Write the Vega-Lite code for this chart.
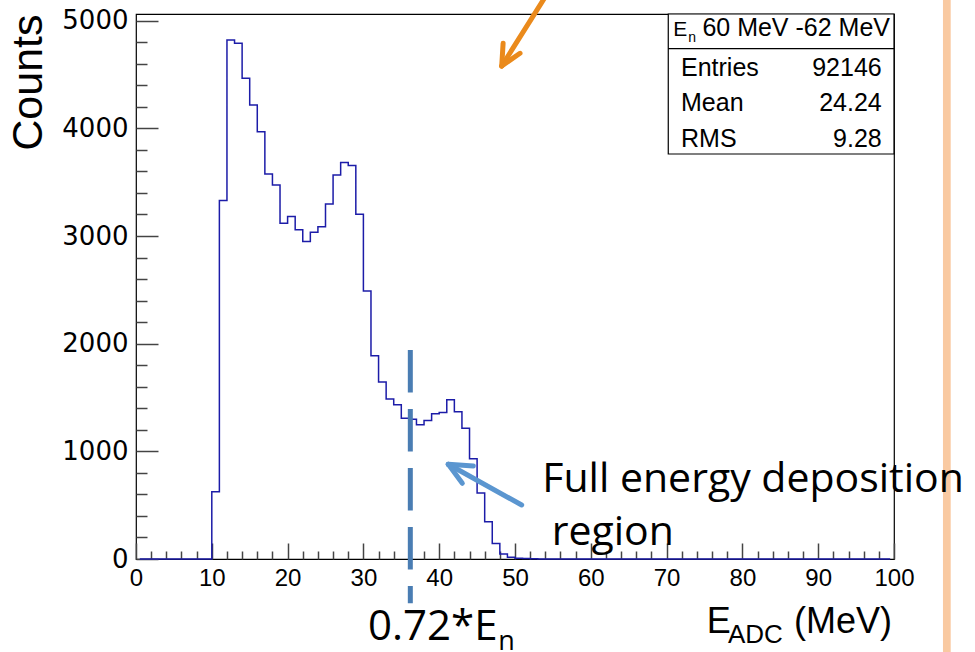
{
  "$schema": "https://vega.github.io/schema/vega-lite/v6.json",
  "width": 758,
  "height": 545,
  "autosize": "none",
  "padding": {"left": 136, "top": 14, "right": 81, "bottom": 93},
  "background": "white",
  "config": {"view": {"stroke": "#000", "strokeWidth": 1.2}, "font": "Liberation Sans"},
  "data": {"values": [{}]},
  "resolve": {"axis": {"x": "independent", "y": "independent"}},
  "datasets": {
    "hist": [
      {"e": 0.5, "counts": 0}, {"e": 1.5, "counts": 0}, {"e": 2.5, "counts": 0}, {"e": 3.5, "counts": 0}, {"e": 4.5, "counts": 0},
      {"e": 5.5, "counts": 0}, {"e": 6.5, "counts": 0}, {"e": 7.5, "counts": 0}, {"e": 8.5, "counts": 0}, {"e": 9.5, "counts": 0},
      {"e": 10.5, "counts": 624}, {"e": 11.5, "counts": 3329}, {"e": 12.5, "counts": 4821}, {"e": 13.5, "counts": 4790}, {"e": 14.5, "counts": 4465},
      {"e": 15.5, "counts": 4217}, {"e": 16.5, "counts": 3969}, {"e": 17.5, "counts": 3577}, {"e": 18.5, "counts": 3474}, {"e": 19.5, "counts": 3119},
      {"e": 20.5, "counts": 3181}, {"e": 21.5, "counts": 3057}, {"e": 22.5, "counts": 2948}, {"e": 23.5, "counts": 3035}, {"e": 24.5, "counts": 3085},
      {"e": 25.5, "counts": 3298}, {"e": 26.5, "counts": 3567}, {"e": 27.5, "counts": 3682}, {"e": 28.5, "counts": 3654}, {"e": 29.5, "counts": 3202},
      {"e": 30.5, "counts": 2490}, {"e": 31.5, "counts": 1887}, {"e": 32.5, "counts": 1645}, {"e": 33.5, "counts": 1485}, {"e": 34.5, "counts": 1432},
      {"e": 35.5, "counts": 1308}, {"e": 36.5, "counts": 1299}, {"e": 37.5, "counts": 1246}, {"e": 38.5, "counts": 1286}, {"e": 39.5, "counts": 1348},
      {"e": 40.5, "counts": 1360}, {"e": 41.5, "counts": 1478}, {"e": 42.5, "counts": 1367}, {"e": 43.5, "counts": 1215}, {"e": 44.5, "counts": 930},
      {"e": 45.5, "counts": 612}, {"e": 46.5, "counts": 345}, {"e": 47.5, "counts": 145}, {"e": 48.5, "counts": 47}, {"e": 49.5, "counts": 16},
      {"e": 50.5, "counts": 7}, {"e": 51.5, "counts": 4}, {"e": 52.5, "counts": 2}, {"e": 53.5, "counts": 1}, {"e": 54.5, "counts": 0},
      {"e": 55.5, "counts": 0}, {"e": 56.5, "counts": 0}, {"e": 57.5, "counts": 0}, {"e": 58.5, "counts": 0}, {"e": 59.5, "counts": 0},
      {"e": 60.5, "counts": 0}, {"e": 61.5, "counts": 0}, {"e": 62.5, "counts": 0}, {"e": 63.5, "counts": 0}, {"e": 64.5, "counts": 0},
      {"e": 65.5, "counts": 0}, {"e": 66.5, "counts": 0}, {"e": 67.5, "counts": 0}, {"e": 68.5, "counts": 0}, {"e": 69.5, "counts": 0},
      {"e": 70.5, "counts": 0}, {"e": 71.5, "counts": 0}, {"e": 72.5, "counts": 0}, {"e": 73.5, "counts": 0}, {"e": 74.5, "counts": 0},
      {"e": 75.5, "counts": 0}, {"e": 76.5, "counts": 0}, {"e": 77.5, "counts": 0}, {"e": 78.5, "counts": 0}, {"e": 79.5, "counts": 0},
      {"e": 80.5, "counts": 0}, {"e": 81.5, "counts": 0}, {"e": 82.5, "counts": 0}, {"e": 83.5, "counts": 0}, {"e": 84.5, "counts": 0},
      {"e": 85.5, "counts": 0}, {"e": 86.5, "counts": 0}, {"e": 87.5, "counts": 0}, {"e": 88.5, "counts": 0}, {"e": 89.5, "counts": 0},
      {"e": 90.5, "counts": 0}, {"e": 91.5, "counts": 0}, {"e": 92.5, "counts": 0}, {"e": 93.5, "counts": 0}, {"e": 94.5, "counts": 0},
      {"e": 95.5, "counts": 0}, {"e": 96.5, "counts": 0}, {"e": 97.5, "counts": 0}, {"e": 98.5, "counts": 0}, {"e": 99.5, "counts": 0}
    ]
  },
  "layer": [
    {
      "data": {"name": "hist"},
      "mark": {"type": "line", "interpolate": "step", "color": "#1c1ca8", "strokeWidth": 1.5},
      "encoding": {
        "x": {
          "field": "e", "type": "quantitative",
          "scale": {"domain": [0, 100], "nice": false, "zero": false},
          "axis": {
            "orient": "bottom",
            "values": [0,2,4,6,8,10,12,14,16,18,20,22,24,26,28,30,32,34,36,38,40,42,44,46,48,50,52,54,56,58,60,62,64,66,68,70,72,74,76,78,80,82,84,86,88,90,92,94,96,98,100],
            "labelExpr": "datum.value % 10 === 0 ? datum.label : ''",
            "format": "d",
            "tickSize": -16,
            "tickDash": {"condition": {"test": "datum.value % 10 !== 0", "value": [8, 40]}, "value": [100, 0]},
            "tickColor": "#444", "tickWidth": 1.5,
            "domain": false, "grid": false, "title": null,
            "labelFont": "Liberation Sans", "labelFontSize": 24, "labelColor": "#000",
            "labelPadding": 23, "labelFlush": false, "labelOverlap": false
          }
        },
        "y": {
          "field": "counts", "type": "quantitative",
          "scale": {"domain": [0, 5062], "nice": false, "zero": false},
          "axis": {
            "orient": "left",
            "values": [0,200,400,600,800,1000,1200,1400,1600,1800,2000,2200,2400,2600,2800,3000,3200,3400,3600,3800,4000,4200,4400,4600,4800,5000],
            "labelExpr": "datum.value % 1000 === 0 ? datum.label : ''",
            "format": "d",
            "tickSize": -22,
            "tickDash": {"condition": {"test": "datum.value % 1000 !== 0", "value": [11, 40]}, "value": [100, 0]},
            "tickColor": "#444", "tickWidth": 1.5,
            "domain": false, "grid": false,
            "title": "Counts", "titleFont": "Liberation Sans", "titleFontSize": 43, "titleFontWeight": "normal",
            "titleColor": "#000", "titleAnchor": "end", "titleBaseline": "alphabetic", "titlePadding": 20,
            "labelFont": "DejaVu Sans", "labelFontSize": 26, "labelColor": "#000",
            "labelPadding": 30, "labelFlush": false, "labelOverlap": false
          }
        }
      }
    },
    {
      "mark": {"type": "rect", "fill": "white", "stroke": "#000", "strokeWidth": 1.2, "clip": false},
      "encoding": {
        "x": {"datum": 70.22, "axis": null}, "x2": {"datum": 100},
        "y": {"datum": 3761.5, "axis": null}, "y2": {"datum": 5062}
      }
    },
    {
      "mark": {"type": "rule", "stroke": "#000", "strokeWidth": 1.2, "clip": false},
      "encoding": {
        "x": {"datum": 70.22, "axis": null}, "x2": {"datum": 100},
        "y": {"datum": 4739.5, "axis": null}
      }
    },
    {
      "mark": {"type": "text", "text": "E", "align": "left", "baseline": "alphabetic", "font": "Liberation Sans", "fontSize": 21, "color": "#000", "clip": false},
      "encoding": {"x": {"datum": 70.88, "axis": null}, "y": {"datum": 4857, "axis": null}}
    },
    {
      "mark": {"type": "text", "text": "n", "align": "left", "baseline": "alphabetic", "font": "Liberation Sans", "fontSize": 14, "color": "#000", "clip": false},
      "encoding": {"x": {"datum": 72.86, "axis": null}, "y": {"datum": 4801, "axis": null}}
    },
    {
      "mark": {"type": "text", "text": "60 MeV -62 MeV", "align": "right", "baseline": "alphabetic", "font": "Liberation Sans", "fontSize": 25, "color": "#000", "clip": false},
      "encoding": {"x": {"datum": 99.47, "axis": null}, "y": {"datum": 4857, "axis": null}}
    },
    {
      "mark": {"type": "text", "text": "Entries", "align": "left", "baseline": "alphabetic", "font": "Liberation Sans", "fontSize": 25, "color": "#000", "clip": false},
      "encoding": {"x": {"datum": 71.9, "axis": null}, "y": {"datum": 4486, "axis": null}}
    },
    {
      "mark": {"type": "text", "text": "92146", "align": "right", "baseline": "alphabetic", "font": "Liberation Sans", "fontSize": 25, "color": "#000", "clip": false},
      "encoding": {"x": {"datum": 98.38, "axis": null}, "y": {"datum": 4486, "axis": null}}
    },
    {
      "mark": {"type": "text", "text": "Mean", "align": "left", "baseline": "alphabetic", "font": "Liberation Sans", "fontSize": 25, "color": "#000", "clip": false},
      "encoding": {"x": {"datum": 71.9, "axis": null}, "y": {"datum": 4161, "axis": null}}
    },
    {
      "mark": {"type": "text", "text": "24.24", "align": "right", "baseline": "alphabetic", "font": "Liberation Sans", "fontSize": 25, "color": "#000", "clip": false},
      "encoding": {"x": {"datum": 98.38, "axis": null}, "y": {"datum": 4161, "axis": null}}
    },
    {
      "mark": {"type": "text", "text": "RMS", "align": "left", "baseline": "alphabetic", "font": "Liberation Sans", "fontSize": 25, "color": "#000", "clip": false},
      "encoding": {"x": {"datum": 71.9, "axis": null}, "y": {"datum": 3829, "axis": null}}
    },
    {
      "mark": {"type": "text", "text": "9.28", "align": "right", "baseline": "alphabetic", "font": "Liberation Sans", "fontSize": 25, "color": "#000", "clip": false},
      "encoding": {"x": {"datum": 98.38, "axis": null}, "y": {"datum": 3829, "axis": null}}
    },
    {
      "mark": {"type": "rule", "stroke": "#4a7db3", "strokeWidth": 5, "strokeDash": [42.5, 16.5], "strokeCap": "butt", "clip": false},
      "encoding": {"x": {"datum": 36.19, "axis": null}, "y": {"datum": 1941, "axis": null}, "y2": {"datum": -411}}
    },
    {
      "mark": {"type": "rule", "stroke": "#5b96d0", "strokeWidth": 5, "strokeCap": "round", "clip": false},
      "encoding": {"x": {"datum": 41.2, "axis": null}, "y": {"datum": 879.5, "axis": null}, "x2": {"datum": 50.88}, "y2": {"datum": 501.5}}
    },
    {
      "mark": {"type": "rule", "stroke": "#5b96d0", "strokeWidth": 5, "strokeCap": "round", "clip": false},
      "encoding": {"x": {"datum": 41.2, "axis": null}, "y": {"datum": 879.5, "axis": null}, "x2": {"datum": 44.5}, "y2": {"datum": 863.8}}
    },
    {
      "mark": {"type": "rule", "stroke": "#5b96d0", "strokeWidth": 5, "strokeCap": "round", "clip": false},
      "encoding": {"x": {"datum": 41.2, "axis": null}, "y": {"datum": 879.5, "axis": null}, "x2": {"datum": 43.05}, "y2": {"datum": 703.1}}
    },
    {
      "mark": {"type": "rule", "stroke": "#ea8a1c", "strokeWidth": 5, "strokeCap": "round", "clip": false},
      "encoding": {"x": {"datum": 48.25, "axis": null}, "y": {"datum": 4579, "axis": null}, "x2": {"datum": 54.56}, "y2": {"datum": 5285}}
    },
    {
      "mark": {"type": "rule", "stroke": "#ea8a1c", "strokeWidth": 5, "strokeCap": "round", "clip": false},
      "encoding": {"x": {"datum": 48.25, "axis": null}, "y": {"datum": 4579, "axis": null}, "x2": {"datum": 48.43}, "y2": {"datum": 4790}}
    },
    {
      "mark": {"type": "rule", "stroke": "#ea8a1c", "strokeWidth": 5, "strokeCap": "round", "clip": false},
      "encoding": {"x": {"datum": 48.25, "axis": null}, "y": {"datum": 4579, "axis": null}, "x2": {"datum": 50.66}, "y2": {"datum": 4697}}
    },
    {
      "mark": {"type": "rect", "fill": "#f9c9a1", "clip": false},
      "encoding": {"x": {"datum": 106.46, "axis": null}, "x2": {"datum": 107.48}, "y": {"datum": -900, "axis": null}, "y2": {"datum": 5300}}
    },
    {
      "mark": {"type": "text", "text": "Full energy deposition", "align": "left", "baseline": "alphabetic", "font": "Open Sans", "fontSize": 41, "color": "#000", "clip": false},
      "encoding": {"x": {"datum": 53.6, "axis": null}, "y": {"datum": 623, "axis": null}}
    },
    {
      "mark": {"type": "text", "text": "region", "align": "left", "baseline": "alphabetic", "font": "Open Sans", "fontSize": 41, "color": "#000", "clip": false},
      "encoding": {"x": {"datum": 54.84, "axis": null}, "y": {"datum": 130, "axis": null}}
    },
    {
      "mark": {"type": "text", "text": "0.72*E", "align": "left", "baseline": "alphabetic", "font": "Open Sans", "fontSize": 42, "color": "#000", "clip": false},
      "encoding": {"x": {"datum": 30.61, "axis": null}, "y": {"datum": -752, "axis": null}}
    },
    {
      "mark": {"type": "text", "text": "n", "align": "left", "baseline": "alphabetic", "font": "Open Sans", "fontSize": 27, "color": "#000", "clip": false},
      "encoding": {"x": {"datum": 47.8, "axis": null}, "y": {"datum": -845, "axis": null}}
    },
    {
      "mark": {"type": "text", "text": "E", "align": "left", "baseline": "alphabetic", "font": "Liberation Sans", "fontSize": 36, "color": "#000", "clip": false},
      "encoding": {"x": {"datum": 75.29, "axis": null}, "y": {"datum": -687, "axis": null}}
    },
    {
      "mark": {"type": "text", "text": "ADC", "align": "left", "baseline": "alphabetic", "font": "Liberation Sans", "fontSize": 26, "color": "#000", "clip": false},
      "encoding": {"x": {"datum": 78.1, "axis": null}, "y": {"datum": -780, "axis": null}}
    },
    {
      "mark": {"type": "text", "text": "(MeV)", "align": "right", "baseline": "alphabetic", "font": "Liberation Sans", "fontSize": 36, "color": "#000", "clip": false},
      "encoding": {"x": {"datum": 99.74, "axis": null}, "y": {"datum": -687, "axis": null}}
    }
  ]
}
